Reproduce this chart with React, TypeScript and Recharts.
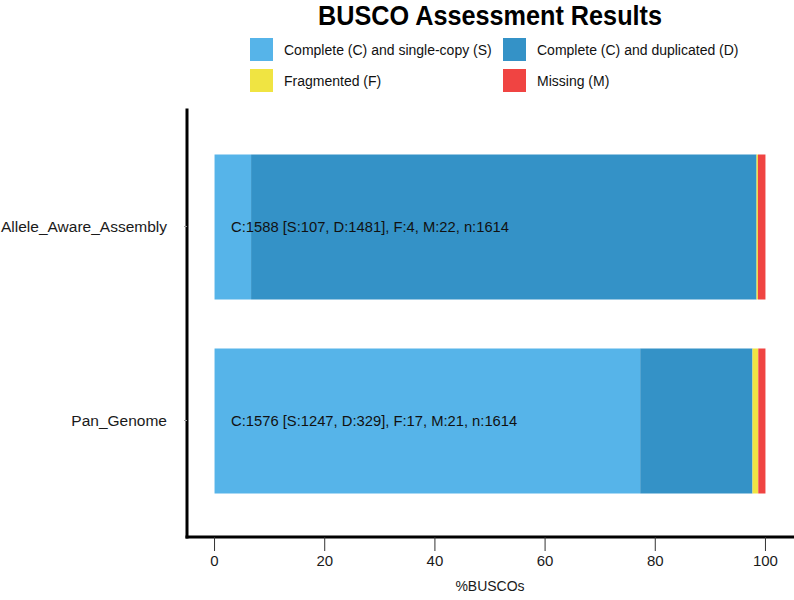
import React from 'react';
import { BarChart, Bar, XAxis, YAxis, ReferenceDot } from 'recharts';

const categories = ['Allele_Aware_Assembly', 'Pan_Genome'];
const singleCopy = [107, 1247];
const duplicated = [1481, 329];
const fragmented = [4, 17];
const missing = [22, 21];
const totals = [1614, 1614];
const xTicks = [0, 20, 40, 60, 80, 100];

const FONT = "'Liberation Sans', Arial, Helvetica, sans-serif";

const series = [
  { key: 'S', name: 'Complete (C) and single-copy (S)', color: '#56B4E9' },
  { key: 'D', name: 'Complete (C) and duplicated (D)', color: '#3492C7' },
  { key: 'F', name: 'Fragmented (F)', color: '#F0E442' },
  { key: 'M', name: 'Missing (M)', color: '#F04442' },
];

// percentages of all BUSCOs per assembly
const data = categories.map((name, i) => ({
  name,
  S: (singleCopy[i] / totals[i]) * 100,
  D: (duplicated[i] / totals[i]) * 100,
  F: (fragmented[i] / totals[i]) * 100,
  M: (missing[i] / totals[i]) * 100,
  summary: `C:${singleCopy[i] + duplicated[i]} [S:${singleCopy[i]}, D:${duplicated[i]}], F:${fragmented[i]}, M:${missing[i]}, n:${totals[i]}`,
}));

// legend sits in a 2x2 grid: column x, row y
const legendCols = [250, 503];
const legendRows = [38, 69];

export default function App() {
  return (
    <div style={{ position: 'absolute', left: 0, top: 0, width: 794, height: 600, background: '#fff', fontFamily: FONT }}>
      <svg width={794} height={40} style={{ position: 'absolute', left: 0, top: 0 }}>
        <text x={490} y={25} textAnchor='middle' fontSize={27} fontWeight='bold' fill='#000' textLength={344} lengthAdjust='spacingAndGlyphs' fontFamily={FONT}>
          BUSCO Assessment Results
        </text>
      </svg>

      {series.map((s, i) => (
        <div key={s.key} style={{ position: 'absolute', left: legendCols[i % 2], top: legendRows[Math.floor(i / 2)], height: 23, display: 'flex', alignItems: 'center' }}>
          <div style={{ width: 23, height: 23, background: s.color }} />
          <span style={{ marginLeft: 11, fontSize: 14, color: '#111', whiteSpace: 'nowrap' }}>{s.name}</span>
        </div>
      ))}

      <BarChart width={794} height={600} data={data} layout='vertical' margin={{ top: 110, right: 1, bottom: 0, left: 0 }}>
        <XAxis
          type='number'
          domain={[-5, 105]}
          ticks={xTicks}
          allowDataOverflow
          height={63}
          tickSize={14}
          tickMargin={4}
          tick={{ fill: '#1a1a1a', fontSize: 15, fontFamily: FONT }}
          tickLine={{ stroke: '#333', strokeWidth: 1 }}
          axisLine={{ stroke: '#000', strokeWidth: 3, strokeLinecap: 'square' }}
          label={{ value: '%BUSCOs', position: 'insideBottom', offset: 9, fill: '#1a1a1a', fontSize: 14, fontFamily: FONT }}
        />
        <YAxis
          type='category'
          dataKey='name'
          width={187}
          tickSize={3}
          tickMargin={17}
          padding={{ top: 19.5, bottom: 19.5 }}
          tick={{ fill: '#1a1a1a', fontSize: 15.5, fontFamily: FONT }}
          tickLine={{ stroke: '#999', strokeWidth: 1 }}
          axisLine={{ stroke: '#000', strokeWidth: 3, strokeLinecap: 'square' }}
        />
        {series.map((s) => (
          <Bar key={s.key} dataKey={s.key} name={s.name} stackId='busco' fill={s.color} barSize={145} isAnimationActive={false} />
        ))}
        {data.map((d) => (
          <ReferenceDot
            key={d.name}
            x={3}
            y={d.name}
            r={0}
            fill='none'
            stroke='none'
            label={{ value: d.summary, position: 'right', offset: 0, fill: '#111', fontSize: 14.75, fontFamily: FONT }}
          />
        ))}
      </BarChart>
    </div>
  );
}
